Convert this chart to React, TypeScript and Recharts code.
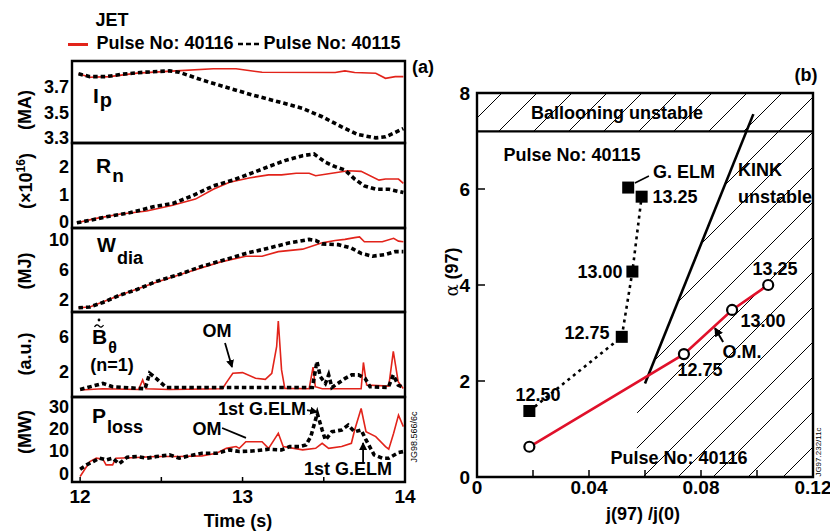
import React from 'react';
import {
  LineChart,
  Line,
  XAxis,
  YAxis,
  ReferenceArea,
  ReferenceLine,
  ComposedChart,
  Area,
  Scatter
} from 'recharts';

const RED = '#e2231a';
const RED_B = '#e0102a';
const FONT = '"Liberation Sans", Arial, Helvetica, sans-serif';

type Pt = [number, number];

// ========================================================
// (a) time traces: [time (s), value]
// ========================================================
const ipRed: Pt[] = [
  [11.99, 3.8], [12.06, 3.773], [12.18, 3.778], [12.35, 3.805], [12.59, 3.823], [12.82, 3.839],
  [12.96, 3.839], [13.12, 3.812], [13.57, 3.81], [13.63, 3.823], [13.69, 3.81], [13.82, 3.805],
  [13.88, 3.765], [13.94, 3.778], [13.99, 3.778]
];
const ipBlack: Pt[] = [
  [11.99, 3.8], [12.06, 3.778], [12.16, 3.778], [12.26, 3.797], [12.39, 3.812], [12.55, 3.823],
  [12.61, 3.812], [12.75, 3.752], [12.92, 3.687], [13.06, 3.635], [13.22, 3.582], [13.37, 3.53],
  [13.49, 3.465], [13.61, 3.386], [13.71, 3.326], [13.82, 3.3], [13.88, 3.308], [13.94, 3.342],
  [13.99, 3.373]
];
const rnRed: Pt[] = [
  [11.98, -0.04], [12.1, 0.12], [12.24, 0.27], [12.41, 0.39], [12.57, 0.6], [12.71, 0.82],
  [12.82, 1.18], [12.92, 1.43], [13.04, 1.59], [13.16, 1.7], [13.24, 1.7], [13.33, 1.76],
  [13.41, 1.76], [13.45, 1.67], [13.55, 1.76], [13.65, 1.85], [13.73, 1.83], [13.84, 1.51],
  [13.88, 1.55], [13.96, 1.55], [13.99, 1.39]
];
const rnBlack: Pt[] = [
  [11.98, -0.04], [12.06, 0.05], [12.18, 0.2], [12.31, 0.33], [12.45, 0.54], [12.57, 0.66],
  [12.69, 0.94], [12.82, 1.3], [12.94, 1.51], [13.04, 1.73], [13.16, 2.0], [13.26, 2.22],
  [13.37, 2.4], [13.44, 2.46], [13.51, 2.16], [13.57, 2.0], [13.63, 1.88], [13.69, 1.55],
  [13.75, 1.3], [13.82, 1.18], [13.9, 1.18], [13.99, 1.06]
];
const wRed: Pt[] = [
  [11.99, 0.97], [12.06, 1.07], [12.24, 2.61], [12.45, 4.24], [12.65, 5.64], [12.86, 7.05],
  [13.02, 7.84], [13.12, 7.84], [13.22, 8.45], [13.37, 8.78], [13.49, 9.62], [13.57, 9.94],
  [13.63, 10.08], [13.69, 10.32], [13.72, 10.41], [13.75, 9.76], [13.86, 9.76], [13.93, 10.22],
  [13.96, 9.85], [13.99, 9.76]
];
const wBlack: Pt[] = [
  [11.99, 0.97], [12.06, 1.07], [12.14, 1.67], [12.24, 2.61], [12.35, 3.4], [12.47, 4.48],
  [12.61, 5.41], [12.75, 6.49], [12.9, 7.42], [13.02, 8.21], [13.16, 8.92], [13.29, 9.62],
  [13.41, 10.08], [13.45, 9.94], [13.49, 9.48], [13.59, 9.38], [13.67, 8.92], [13.73, 8.21],
  [13.8, 7.84], [13.88, 8.07], [13.94, 8.45], [13.99, 8.45]
];
const bRed: Pt[] = [
  [12.0, -0.1], [12.14, 0.04], [12.36, -0.04], [12.385, 1.04], [12.405, 0.04], [12.55, -0.04],
  [12.877, 0.04], [12.897, 0.65], [12.94, 1.81], [13.0, 1.88], [13.08, 1.23], [13.14, 1.12],
  [13.18, 1.81], [13.21, 4.88], [13.22, 7.77], [13.24, 2.19], [13.26, 0.08], [13.41, 0.04],
  [13.434, 2.5], [13.448, 0.27], [13.49, 0.04], [13.73, 0.04], [13.744, 3.04], [13.764, 0.46],
  [13.9, 0.35], [13.928, 4.31], [13.958, 0.85], [13.989, 0.08]
];
const bBlack: Pt[] = [
  [12.0, -0.04], [12.14, 0.65], [12.2, 0.27], [12.4, 0.04], [12.428, 1.81], [12.468, 1.23],
  [12.53, 0.19], [12.92, 0.19], [13.43, 0.19], [13.458, 3.15], [13.479, 1.42], [13.51, 0.65],
  [13.53, 1.62], [13.55, 0.19], [13.632, 1.23], [13.672, 1.62], [13.713, 1.62], [13.754, 1.23],
  [13.785, 0.27], [13.897, 0.19], [13.928, 1.62], [13.958, 0.46], [13.989, 0.19]
];
const pRed: Pt[] = [
  [12.0, -1.5], [12.02, 0.75], [12.06, 5.25], [12.1, 6.75], [12.14, 6.3], [12.16, 3.75],
  [12.2, 3.75], [12.22, 6.75], [12.35, 7.05], [12.47, 7.5], [12.61, 7.5], [12.75, 7.8],
  [12.84, 9.0], [12.9, 11.2], [12.96, 12.0], [12.98, 11.2], [13.02, 14.2], [13.12, 14.2],
  [13.16, 11.2], [13.2, 15.7], [13.22, 18.0], [13.25, 12.0], [13.37, 10.5], [13.45, 11.2],
  [13.49, 13.5], [13.53, 11.2], [13.61, 12.0], [13.67, 13.5], [13.69, 19.5], [13.73, 29.2],
  [13.76, 18.7], [13.82, 16.5], [13.88, 12.0], [13.9, 10.8], [13.93, 18.0], [13.96, 26.2],
  [13.99, 21.0]
];
const pBlack: Pt[] = [
  [12.0, 1.8], [12.04, 3.75], [12.08, 5.25], [12.12, 6.75], [12.16, 6.0], [12.2, 6.75],
  [12.24, 4.2], [12.29, 7.2], [12.35, 7.5], [12.41, 6.75], [12.47, 7.5], [12.55, 8.25],
  [12.61, 6.75], [12.67, 7.8], [12.75, 9.0], [12.84, 9.0], [12.92, 10.5], [12.98, 9.75],
  [13.06, 10.0], [13.16, 10.8], [13.24, 10.5], [13.29, 12.0], [13.35, 12.0], [13.39, 12.7],
  [13.42, 16.5], [13.46, 27.0], [13.49, 19.5], [13.51, 15.0], [13.55, 18.7], [13.61, 19.5],
  [13.65, 21.7], [13.69, 18.7], [13.73, 19.5], [13.76, 15.0], [13.81, 8.25], [13.86, 6.75],
  [13.9, 6.75], [13.96, 9.3], [13.99, 9.75]
];

const timeDomain: [number, number] = [11.95, 14];
const timeTicks = [12, 12.5, 13, 13.5, 14];
const ipTicks = [3.3, 3.5, 3.7];
const rnTicks = [0, 1, 2];
const wTicks = [2, 6, 10];
const bTicks = [0, 2, 4, 6, 8];
const bTickLabels = [2, 6];
const pTicks = [0, 10, 20, 30];

// ========================================================
// (b) stability diagram: j(97)/j(0) vs alpha(97)
// ========================================================
const jTicks = [0, 0.02, 0.04, 0.06, 0.08, 0.1, 0.12];
const alphaTicks = [0, 2, 4, 6, 8];
const ballooningLimit = 7.2;
const kinkLine = [{ x: 0.06, y: 1.95 }, { x: 0.0987, y: 7.56 }];
const kinkZone = [
  { x: 0.057, y: 0 }, { x: 0.0572, y: 1.42 }, { x: 0.06, y: 1.95 }, { x: 0.0962, y: 7.2 }, { x: 0.12, y: 7.2 }
];
const pulse40116 = [{ x: 0.0187, y: 0.63 }, { x: 0.0739, y: 2.56 }, { x: 0.0911, y: 3.48 }, { x: 0.104, y: 4.0 }];
const pulse40115 = [{ x: 0.0187, y: 1.375 }, { x: 0.0517, y: 2.92 }, { x: 0.0555, y: 4.28 }, { x: 0.0588, y: 5.84 }];
const giantElm = [{ x: 0.054, y: 6.03 }];

const rows = (pts: Pt[]) => pts.map(([t, v]) => ({ t, v }));

const tickStyle = { fill: '#000', fontSize: 18, fontWeight: 700, fontFamily: FONT };
const tickLine = { stroke: '#000', strokeWidth: 1.5 };
const PAD = 12; // extra room above/below each panel so edge tick labels are not clipped

interface PanelProps {
  top: number;
  height: number;
  domain: [number, number];
  ticks: number[];
  labels?: number[];
  red: Pt[];
  black: Pt[];
  bottomAxis?: boolean;
  children?: React.ReactNode;
}

const Panel: React.FC<PanelProps> = ({ top, height, domain, ticks, labels, red, black, bottomAxis, children }) => {
  // y tick labels go on invisible reference lines (the axis dropped the bottom one)
  const shown = labels ?? ticks;
  return (
    <div style={{ position: 'absolute', left: 0, top: top - PAD }}>
      <LineChart
        width={428}
        height={height + PAD + (bottomAxis ? 32 : PAD)}
        margin={{ top: PAD, right: 23, bottom: bottomAxis ? 0 : PAD, left: 42 }}
      >
        <defs>
          <marker id={`arr${top}`} markerWidth={8} markerHeight={8} refX={7} refY={4} orient="auto" markerUnits="userSpaceOnUse">
            <path d="M0,0 L8,4 L0,8 z" fill="#000" />
          </marker>
        </defs>
        <XAxis
          type="number"
          dataKey="t"
          domain={timeDomain}
          allowDataOverflow
          hide={!bottomAxis}
          ticks={timeTicks}
          interval={0}
          tickFormatter={(v: number) => (Number.isInteger(v) ? String(v) : '')}
          tickSize={-5}
          tickMargin={13}
          axisLine={false}
          tickLine={tickLine}
          height={32}
          tick={{ ...tickStyle, fontSize: 19 }}
        />
        <YAxis
          type="number"
          domain={domain}
          allowDataOverflow
          ticks={ticks}
          interval={0}
          width={30}
          tickSize={-4}
          tickMargin={7}
          axisLine={false}
          tickLine={tickLine}
          tick={false}
        />
        {shown.map((v) => (
          <ReferenceLine
            key={v}
            y={v}
            stroke="none"
            strokeWidth={0}
            label={{ value: String(v), position: 'left', offset: 3, ...tickStyle }}
          />
        ))}
        <Line data={rows(red)} dataKey="v" type="linear" stroke={RED} strokeWidth={1.6} dot={false} isAnimationActive={false} />
        <Line data={rows(black)} dataKey="v" type="linear" stroke="#000" strokeWidth={3.6} strokeDasharray="4.5 3" dot={false} isAnimationActive={false} />
        {children}
        <ReferenceArea x1={timeDomain[0]} x2={timeDomain[1]} y1={domain[0]} y2={domain[1]} fill="none" stroke="#000" strokeWidth={2.4} />
      </LineChart>
    </div>
  );
};

const Txt: React.FC<{ x: number; y: number; size?: number; rot?: number; children: React.ReactNode; style?: React.CSSProperties }> = ({ x, y, size = 18, rot, children, style }) => (
  <div
    style={{
      position: 'absolute',
      left: x,
      top: y,
      transform: `translate(-50%, -50%)${rot ? ` rotate(${rot}deg)` : ''}`,
      fontSize: size,
      fontWeight: 700,
      whiteSpace: 'nowrap',
      lineHeight: 1,
      ...style
    }}
  >
    {children}
  </div>
);

const Sym: React.FC<{ x: number; y: number; main: string; sub: string; size?: number; subSize?: number; shift: number }> = ({ x, y, main, sub, size = 21, subSize = 18, shift }) => (
  <div style={{ position: 'absolute', left: x, top: y, fontSize: size, fontWeight: 700, lineHeight: 1, whiteSpace: 'nowrap' }}>
    {main}
    <span style={{ fontSize: subSize, position: 'relative', top: shift, marginLeft: 1 }}>{sub}</span>
  </div>
);

const Square = (props: any) => <rect x={props.cx - 6} y={props.cy - 6} width={12} height={12} fill="#000" />;

const StabilityChart: React.FC = () => (
  <div style={{ position: 'absolute', left: 430, top: 60 }}>
    <ComposedChart width={400} height={460} margin={{ top: 33, right: 17, bottom: 13, left: 7 }}>
      <defs>
        <pattern id="hatch" patternUnits="userSpaceOnUse" width={35} height={35}>
          <path d="M0,35 L35,0 M-5,5 L5,-5 M30,40 L40,30" stroke="#000" strokeWidth={1} />
        </pattern>
        <marker id="arrB" markerWidth={9} markerHeight={9} refX={8} refY={4.5} orient="auto" markerUnits="userSpaceOnUse">
          <path d="M0,0 L9,4.5 L0,9 z" fill="#000" />
        </marker>
      </defs>
      <XAxis
        type="number"
        dataKey="x"
        domain={[0, 0.12]}
        allowDataOverflow
        ticks={jTicks}
        interval={0}
        tickFormatter={(v: number) => {
          const k = Math.round(v * 100);
          if (k % 4 !== 0) return '';
          return k === 0 ? '0' : v.toFixed(2);
        }}
        tickSize={-7}
        tickMargin={11}
        axisLine={false}
        tickLine={tickLine}
        height={30}
        tick={{ ...tickStyle, fontSize: 19 }}
      />
      <YAxis
        type="number"
        dataKey="y"
        domain={[0, 8]}
        allowDataOverflow
        ticks={alphaTicks}
        interval={0}
        tickSize={-8}
        tickMargin={15}
        width={40}
        axisLine={false}
        tickLine={tickLine}
        tick={{ ...tickStyle, fontSize: 19 }}
      />
      <ReferenceArea x1={0} x2={0.12} y1={ballooningLimit} y2={8} fill="url(#hatch)" fillOpacity={1} stroke="none" />
      <Area data={kinkZone} dataKey="y" type="linear" fill="url(#hatch)" fillOpacity={1} stroke="none" isAnimationActive={false} />
      <ReferenceLine y={ballooningLimit} stroke="#000" strokeWidth={2.2} />
      <Line data={kinkLine} dataKey="y" type="linear" stroke="#000" strokeWidth={2.6} dot={false} isAnimationActive={false} />
      <Line data={pulse40115} dataKey="y" type="linear" stroke="#000" strokeWidth={2.6} strokeDasharray="3 4" dot={false} isAnimationActive={false} />
      <Line
        data={pulse40116}
        dataKey="y"
        type="linear"
        stroke={RED_B}
        strokeWidth={2.6}
        dot={{ r: 5, fill: '#fff', stroke: '#000', strokeWidth: 2.2 }}
        isAnimationActive={false}
      />
      <Scatter data={[...pulse40115, ...giantElm]} shape={Square} isAnimationActive={false} />
      <ReferenceLine segment={[{ x: 0.0564, y: 6.125 }, { x: 0.0614, y: 6.27 }]} stroke="#000" strokeWidth={1.6} />
      <ReferenceLine segment={[{ x: 0.0879, y: 2.81 }, { x: 0.085, y: 3.1 }]} stroke="#000" strokeWidth={2} markerEnd="url(#arrB)" />
      <ReferenceArea x1={0} x2={0.12} y1={0} y2={8} fill="none" stroke="#000" strokeWidth={2.4} />
    </ComposedChart>
  </div>
);

export default function App() {
  return (
    <div
      style={{
        position: 'absolute',
        left: 0,
        top: 0,
        width: 832,
        height: 531,
        background: '#fff',
        fontFamily: FONT,
        color: '#000',
        overflow: 'hidden'
      }}
    >
      {/* header / legend */}
      <Txt x={112} y={20}>JET</Txt>
      <div style={{ position: 'absolute', left: 68, top: 43, width: 20, height: 2.5, background: RED }} />
      <Txt x={165} y={43}>Pulse No: 40116</Txt>
      <svg style={{ position: 'absolute', left: 238, top: 40 }} width={24} height={8}>
        <line x1={0} y1={4} x2={24} y2={4} stroke="#000" strokeWidth={2.5} strokeDasharray="5 3" />
      </svg>
      <Txt x={332} y={43}>Pulse No: 40115</Txt>
      <Txt x={423} y={67}>(a)</Txt>
      <Txt x={806} y={75}>(b)</Txt>

      <Panel top={61} height={82} domain={[3.26, 3.9]} ticks={ipTicks} red={ipRed} black={ipBlack} />
      <Panel top={143} height={85} domain={[-0.23, 2.86]} ticks={rnTicks} red={rnRed} black={rnBlack} />
      <Panel top={228} height={84} domain={[0.4, 11.6]} ticks={wTicks} red={wRed} black={wBlack} />
      <Panel top={312} height={85} domain={[-0.9, 8.8]} ticks={bTicks} labels={bTickLabels} red={bRed} black={bBlack}>
        <ReferenceLine segment={[{ x: 12.892, y: 5.26 }, { x: 12.935, y: 2.52 }]} stroke="#000" strokeWidth={1.8} markerEnd="url(#arr312)" />
      </Panel>
      <Panel top={397} height={85} domain={[-4, 34.4]} ticks={pTicks} red={pRed} black={pBlack} bottomAxis>
        <ReferenceLine segment={[{ x: 13.397, y: 28.5 }, { x: 13.459, y: 27.6 }]} stroke="#000" strokeWidth={1.8} markerEnd="url(#arr397)" />
        <ReferenceLine segment={[{ x: 12.874, y: 20.4 }, { x: 13.021, y: 15.9 }]} stroke="#000" strokeWidth={1.8} />
        <ReferenceLine segment={[{ x: 13.742, y: 5.0 }, { x: 13.742, y: 13.6 }]} stroke="#000" strokeWidth={1.8} markerEnd="url(#arr397)" />
      </Panel>

      {/* panel (a) labels */}
      <Txt x={25} y={110} rot={-90}>(MA)</Txt>
      <Txt x={25} y={181} rot={-90}>
        (×10<sup style={{ fontSize: 12 }}>16</sup>)
      </Txt>
      <Txt x={25} y={271} rot={-90}>(MJ)</Txt>
      <Txt x={25} y={354} rot={-90}>(a.u.)</Txt>
      <Txt x={25} y={432} rot={-90}>(MW)</Txt>

      <Sym x={93} y={85} main="I" sub="p" shift={4} size={21} subSize={20} />
      <Sym x={96} y={155} main="R" sub="n" shift={9} size={21} subSize={19} />
      <Sym x={97} y={235} main="W" sub="dia" shift={12} size={20} subSize={18} />
      <svg style={{ position: 'absolute', left: 93, top: 318 }} width={12} height={12}>
        <circle cx={6} cy={2} r={1.4} fill="#000" />
        <path d="M1.5,9 Q3.5,5.5 6,8 T10.5,7" fill="none" stroke="#000" strokeWidth={1.3} />
      </svg>
      <Sym x={92} y={326} main="B" sub="θ" shift={9} size={21} subSize={16} />
      <Txt x={112} y={365}>(n=1)</Txt>
      <Txt x={217} y={331}>OM</Txt>
      <Sym x={92} y={405} main="P" sub="loss" shift={10} size={21} subSize={18} />
      <Txt x={262} y={409}>1st G.ELM</Txt>
      <Txt x={207} y={429}>OM</Txt>
      <Txt x={348} y={469}>1st G.ELM</Txt>
      <Txt x={238} y={521}>Time (s)</Txt>
      <Txt x={414} y={437} size={9} rot={-90} style={{ fontWeight: 400 }}>JG98.566/6c</Txt>

      {/* panel (b) labels */}
      <StabilityChart />
      <Txt x={617} y={113}>Ballooning unstable</Txt>
      <Txt x={572} y={155}>Pulse No: 40115</Txt>
      <Txt x={684} y={172}>G. ELM</Txt>
      <Txt x={675} y={197}>13.25</Txt>
      <Txt x={760} y={170}>KINK</Txt>
      <Txt x={775} y={197}>unstable</Txt>
      <Txt x={600} y={272}>13.00</Txt>
      <Txt x={587} y={333}>12.75</Txt>
      <Txt x={538} y={395}>12.50</Txt>
      <Txt x={775} y={269}>13.25</Txt>
      <Txt x={763} y={321}>13.00</Txt>
      <Txt x={742} y={352}>O.M.</Txt>
      <Txt x={700} y={370}>12.75</Txt>
      <Txt x={679} y={458}>Pulse No: 40116</Txt>
      <Txt x={452} y={272} rot={-90}>
        <span style={{ fontFamily: '"DejaVu Serif", serif', fontWeight: 400 }}>α</span> (97)
      </Txt>
      <Txt x={643} y={514}>j(97) /j(0)</Txt>
      <Txt x={819} y={452} size={8} rot={-90} style={{ fontWeight: 400 }}>JG97.232/11c</Txt>
    </div>
  );
}
